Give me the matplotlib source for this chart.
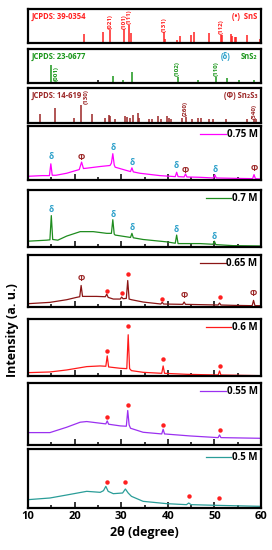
import numpy as np
import matplotlib
matplotlib.use('Agg')
from matplotlib import pyplot as plt

plt.rcParams['font.family'] = ['Open Sans', 'DejaVu Sans']
plt.rcParams['font.weight'] = 'bold'

# Reference patterns (stick positions in 2theta, relative heights)
sns_pos = [22.0, 26.1, 27.6, 30.6, 31.7, 32.0, 39.2, 39.5, 41.9, 42.7, 45.0, 45.7,
           48.8, 51.4, 51.7, 53.5, 53.8, 54.4, 54.7, 56.9, 59.7]
sns_int = [28, 33, 40, 42, 56, 32, 33, 12, 10, 22, 26, 33, 30, 24, 26, 28, 20, 18, 18, 26, 13]
sns_hkl = {'(021)': 27.6, '(101)': 30.6, '(111)': 31.7, '(131)': 39.2, '(112)': 51.4}

sns2_pos = [14.9, 28.3, 30.4, 32.3, 42.1, 46.4, 50.3, 52.7, 55.3, 58.6, 59.9]
sns2_int = [53, 20, 10, 32, 18, 10, 19, 16, 10, 8, 10]
sns2_extra_pos = [25.0]
sns2_extra_int = [8]
sns2_hkl = {'(001)': 14.9, '(102)': 42.1, '(110)': 50.3}

sn2s3_pos = [12.5, 15.9, 19.9, 21.4, 23.7, 26.5, 27.3, 27.6, 28.7, 30.9, 31.3, 31.9, 32.5,
             33.5, 33.8, 35.9, 36.6, 38.0, 38.6, 39.9, 40.3, 40.7, 43.0, 43.8, 45.2, 46.5,
             47.2, 48.8, 49.6, 52.5, 56.9, 58.4, 59.0]
sn2s3_int = [28, 45, 15, 56, 26, 16, 23, 22, 13, 21, 17, 16, 25, 31, 16, 13, 13, 20, 12, 22,
             15, 13, 14, 18, 13, 14, 14, 13, 13, 12, 12, 13, 13]
sn2s3_hkl = {'(130)': 21.4, '(260)': 43.8, '(540)': 58.4}

# Sample patterns
samples = ['0.75 M', '0.7 M', '0.65 M', '0.6 M', '0.55 M', '0.5 M']

x75 = [10, 13, 14.6, 14.9, 15.2, 16, 18.3, 21.0, 21.5, 21.9, 22.6, 25.5, 27.6, 27.9, 28.2,
       28.5, 28.7, 31.2, 32.0, 32.3, 32.6, 34.0, 38.3, 41.6, 41.9, 42.2, 43.5, 43.8, 44.1,
       46.9, 49.8, 50.1, 50.4, 54.0, 58.2, 58.5, 58.8, 60]
y75 = [11, 13, 13, 48, 14, 14, 20, 31, 53, 34, 35, 40, 43, 50, 78, 45, 38, 28, 25, 36, 24,
       20, 13, 10, 23, 10, 9, 18, 9, 8, 6, 15, 6, 5, 4, 16, 4, 3]

x70 = [10, 14.0, 14.7, 15.0, 15.3, 16.4, 18.3, 21.2, 24.0, 26.9, 27.9, 28.2, 28.5, 28.7,
       32.0, 32.3, 32.6, 34.7, 39.8, 41.6, 41.9, 42.2, 46.9, 49.7, 50.0, 50.3, 54, 60]
y70 = [17, 20, 21, 92, 22, 20, 32, 45, 45, 40, 40, 80, 38, 35, 28, 40, 27, 22, 15, 11, 35,
       10, 10, 8, 17, 7, 4, 3]

x65 = [10, 14.7, 18.3, 20.4, 21.1, 21.4, 21.7, 24.7, 26.6, 26.9, 27.2, 28.3, 29.8, 30.1,
       30.4, 31.1, 31.4, 31.7, 32.2, 34.7, 38.5, 38.8, 39.1, 43.2, 43.5, 43.8, 50.8, 51.1,
       51.4, 54, 58.1, 58.4, 58.7, 60]
y65 = [10, 14, 22, 29, 31, 65, 32, 32, 31, 39, 29, 24, 24, 30, 25, 26, 80, 24, 22, 15, 9,
       14, 9, 8, 15, 8, 6, 12, 6, 5, 4, 20, 4, 4]

x60 = [10, 14.7, 18.3, 22.6, 25.5, 26.7, 27.0, 27.3, 29.8, 31.2, 31.5, 31.8, 32.2, 34.7,
       38.7, 39.0, 39.3, 44.1, 50.8, 51.1, 51.4, 60]
y60 = [10, 12, 18, 28, 30, 29, 60, 27, 23, 22, 123, 22, 16, 11, 8, 30, 8, 5, 3, 15, 3, 1]

x55 = [10, 14.7, 18.3, 21.2, 22.6, 25.5, 26.7, 27.0, 27.3, 29.8, 31.1, 31.4, 31.7, 32.0,
       34.7, 38.7, 39.0, 39.3, 44.8, 50.8, 51.1, 51.4, 60]
y55 = [37, 37, 53, 68, 70, 65, 63, 72, 62, 57, 56, 103, 60, 50, 38, 33, 47, 33, 27, 22, 30,
       22, 20]

x50 = [10, 14.7, 18.3, 22.6, 25.5, 26.2, 26.7, 27.2, 28.3, 30.3, 30.9, 31.5, 32.2, 34.7,
       39.8, 44.0, 44.5, 45.0, 50.4, 60]
y50 = [25, 30, 39, 50, 47, 52, 65, 50, 43, 45, 57, 45, 35, 20, 13, 10, 15, 10, 8, 5]

# phase markers: (2theta, height, phase)
marks75 = [(14.9, 70, 'd'), (21.5, 68, 'f'), (28.2, 96, 'd'), (32.3, 52, 'd'), (41.9, 44, 'd'),
           (43.8, 28, 'f'), (50.1, 32, 'd'), (58.5, 33, 'f')]
marks70 = [(15.0, 110, 'd'), (28.2, 95, 'd'), (32.3, 56, 'd'), (41.9, 52, 'd'), (50.0, 32, 'd')]
marks65 = [(21.4, 85, 'f'), (26.9, 49, 's'), (30.1, 43, 's'), (31.4, 99, 's'), (38.8, 25, 's'),
           (43.5, 34, 'f'), (51.1, 30, 's'), (58.4, 40, 'f')]
marks60 = [(27.0, 76, 's'), (31.5, 150, 's'), (39.0, 50, 's'), (51.1, 30, 's')]
marks55 = [(27.0, 85, 's'), (31.4, 120, 's'), (39.0, 60, 's'), (51.1, 44, 's')]
marks50 = [(27.0, 79, 's'), (30.9, 79, 's'), (44.5, 37, 's'), (51.0, 31, 's')]

red = '#ff2020'
green = '#1a961a'
teal = '#2a9fc9'
dred = '#9b2626'
colors = ['#ff00ff', '#1e8c1e', '#8b1515', '#ff1a1a', '#9b30f0', '#2a9d98']

W, H = 272, 550
fig = plt.figure(figsize=(W / 100, H / 100), dpi=100)

def box(top, bot):
    return [28 / W, 1 - bot / H, 233 / W, (bot - top) / H]

def frame(ax, ticks):
    ax.set_xlim(10, 60)
    for s in ax.spines.values():
        s.set_linewidth(1.6)
    ax.set_yticks([])
    if ticks:
        ax.set_xticks([10, 20, 30, 40, 50, 60])
        ax.set_xticks([15, 25, 35, 45, 55], minor=True)
        ax.tick_params(axis='x', which='major', direction='in', length=4, width=1.1,
                       labelsize=8, pad=2)
        ax.tick_params(axis='x', which='minor', direction='in', length=2.5, width=1.1)
    else:
        ax.set_xticks([])

# reference panels
refs = [
    (9, 43, 104, sns_pos, sns_int, red, 'JCPDS: 39-0354', sns_hkl),
    (49, 83, 102, sns2_pos, sns2_int, green, 'JCPDS: 23-0677', sns2_hkl),
    (88, 123, 107, sn2s3_pos, sn2s3_int, dred, 'JCPDS: 14-619', sn2s3_hkl),
]
for i, (top, bot, ymax, pos, inten, c, title, hkl) in enumerate(refs):
    ax = fig.add_axes(box(top, bot))
    frame(ax, False)
    ax.set_ylim(0, ymax)
    ax.vlines(pos, 0, inten, color=c, lw=1.1)
    if i == 1:
        ax.vlines(sns2_extra_pos, 0, sns2_extra_int, color='black', lw=1.1)
    ax.text(0.015, 0.72, title, transform=ax.transAxes, color=c, fontsize=5.5,
            fontweight='bold', va='baseline', ha='left')
    for lab, xp in hkl.items():
        h = inten[pos.index(xp)]
        if i == 1 and lab == '(001)':
            ax.text(xp + 1.2, 5, lab, color=c, fontsize=4.5, rotation=90, ha='center',
                    va='bottom')
        elif i == 2 and lab == '(130)':
            ax.text(xp + 1.0, h + 2, lab, color=c, fontsize=4.5, rotation=90, ha='center',
                    va='bottom')
        elif i == 2 and lab == '(540)':
            ax.text(xp + 0.2, 12, lab, color=c, fontsize=4.5, rotation=90, ha='center',
                    va='bottom')
        else:
            ax.text(xp, h + 2, lab, color=c, fontsize=4.5, rotation=90, ha='center',
                    va='bottom')
    if i == 0:
        ax.text(0.985, 0.72, '(•)  SnS', transform=ax.transAxes, color=c, fontsize=5.5,
                va='baseline', ha='right')
    elif i == 1:
        ax.text(0.985, 0.72, 'SnS₂', transform=ax.transAxes, color=c, fontsize=5.5,
                va='baseline', ha='right')
        ax.text(0.87, 0.72, '(δ)', transform=ax.transAxes, color=teal, fontsize=5.5,
                va='baseline', ha='right')
    else:
        ax.text(0.985, 0.72, '(Φ) Sn₂S₃', transform=ax.transAxes, color=c,
                fontsize=5.5, va='baseline', ha='right')

# sample panels
panels = [
    (126, 180, 160, x75, y75, marks75),
    (190, 247, 167, x70, y70, marks70),
    (255, 307, 157, x65, y65, marks65),
    (319, 376, 170, x60, y60, marks60),
    (383, 445, 185, x55, y55, marks55),
    (449, 508, 177, x50, y50, marks50),
]
for j, (top, bot, ymax, xs, ys, marks) in enumerate(panels):
    ax = fig.add_axes(box(top, bot))
    frame(ax, True)
    ax.set_ylim(0, ymax)
    ax.plot(xs, ys, color=colors[j], lw=0.9, label=samples[j])
    for xm, ym, ph in marks:
        if ph == 's':
            ax.plot(xm, ym, 'o', color=red, ms=3.2, mec='none')
        elif ph == 'd':
            ax.text(xm, ym, 'δ', color=teal, fontsize=6, ha='center', va='center')
        else:
            ax.text(xm, ym, 'Φ', color=dred, fontsize=6, ha='center', va='center')
    ax.legend(loc='upper right', frameon=False, fontsize=7, handlelength=2.6,
              handletextpad=0.1, borderaxespad=0.15, borderpad=0.2)
    if j < len(panels) - 1:
        ax.tick_params(axis='x', labelbottom=False)
    else:
        ax.set_xlabel('2θ (degree)', fontsize=9, fontweight='bold', labelpad=3)

fig.text(0.045, 1 - 330 / H, 'Intensity (a. u.)', rotation=90, fontsize=9,
         fontweight='bold', ha='center', va='center')

plt.savefig('out.png', dpi=100)
